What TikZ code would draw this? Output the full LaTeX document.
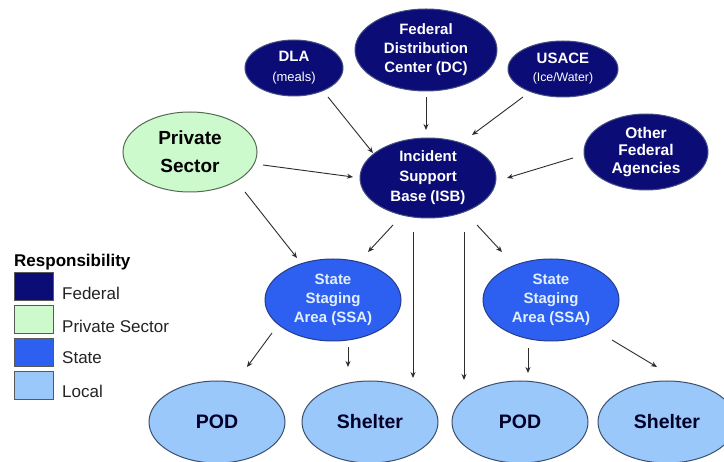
\documentclass[tikz,border=0pt]{standalone}
\usepackage{fontspec}
\setmainfont{Liberation Sans}
\usetikzlibrary{shapes.geometric,arrows.meta,calc}
\definecolor{fedfill}{RGB}{12,12,118}
\definecolor{fedline}{RGB}{70,80,130}
\definecolor{privfill}{RGB}{204,250,204}
\definecolor{privline}{RGB}{85,105,85}
\definecolor{statefill}{RGB}{45,95,240}
\definecolor{stateline}{RGB}{40,60,140}
\definecolor{localfill}{RGB}{155,200,250}
\definecolor{localline}{RGB}{60,80,110}
\definecolor{ssatext}{RGB}{225,240,255}
\definecolor{arrowcol}{RGB}{45,45,45}
\definecolor{legtextcol}{RGB}{35,35,35}
\begin{document}
\begin{tikzpicture}[x=1pt,y=-1pt,
  blob/.style={ellipse, inner sep=0pt, align=center, line width=1pt},
  fed/.style={blob, fill=fedfill, draw=fedline, text=white},
  priv/.style={blob, fill=privfill, draw=privline, text=black},
  state/.style={blob, fill=statefill, draw=stateline, text=ssatext},
  local/.style={blob, fill=localfill, draw=localline, text=black!85!blue},
  fsmall/.style={font=\fontsize{15}{19}\selectfont\bfseries},
  fbig/.style={font=\fontsize{19.5}{28}\selectfont\bfseries},
  legbox/.style={rectangle, inner sep=0pt, minimum width=39pt, minimum height=28pt, draw=black!65, line width=1pt},
  legtext/.style={anchor=west, inner sep=0pt, text=legtextcol, font=\fontsize{17}{20}\selectfont},
  arr/.style={draw=arrowcol, line width=0.9pt, -{Stealth[length=6pt,width=5pt]}}
]
\fill[white] (0,0) rectangle (724,462);
\useasboundingbox (0,0) rectangle (724,462);

% Federal nodes
\node[fed, font=\fontsize{15}{20}\selectfont\bfseries, minimum width=98pt, minimum height=56pt] (dla) at (294,68)
  {DLA\\{\mdseries\fontsize{13}{20}\selectfont (meals)}};
\node[fed, fsmall, minimum width=142pt, minimum height=82pt] (fdc) at (426,50)
  {Federal\\Distribution\\Center (DC)};
\node[fed, font=\fontsize{15}{18}\selectfont\bfseries, minimum width=110pt, minimum height=56pt] (usace) at (563,69)
  {USACE\\{\mdseries\fontsize{12.3}{18}\selectfont (Ice/Water)}};
\node[fed, font=\fontsize{15}{20}\selectfont\bfseries, minimum width=136pt, minimum height=80pt] (isb) at (428,178)
  {Incident\\Support\\Base (ISB)};
\node[fed, font=\fontsize{15.5}{17.5}\selectfont\bfseries, minimum width=124pt, minimum height=76pt] (other) at (646,152)
  {Other\\Federal\\Agencies};

% Private sector
\node[priv, font=\fontsize{19}{28}\selectfont\bfseries, minimum width=134pt, minimum height=80pt] (priv) at (190,152)
  {Private\\Sector};

% State staging areas
\node[state, fsmall, minimum width=136pt, minimum height=82pt] (ssal) at (333,300)
  {State\\Staging\\Area (SSA)};
\node[state, fsmall, minimum width=136pt, minimum height=82pt] (ssar) at (551,300)
  {State\\Staging\\Area (SSA)};

% Local
\node[local, fbig, minimum width=136pt, minimum height=82pt] (podl) at (217,422) {POD};
\node[local, fbig, minimum width=136pt, minimum height=82pt] (shl) at (370,422) {Shelter};
\node[local, fbig, minimum width=136pt, minimum height=82pt] (podr) at (520,422) {POD};
\node[local, fbig, minimum width=138pt, minimum height=82pt] (shr) at (667,422) {Shelter};

% Connectors
\draw[arr] ($(dla)+(34,29)$) -- ($(isb)+(-55,-25)$);
\draw[arr] ($(fdc)+(0,47)$) -- ($(isb)+(-2,-48)$);
\draw[arr] ($(usace)+(-40,28)$) -- ($(isb)+(44,-43)$);
\draw[arr] ($(priv)+(73,13)$) -- ($(isb)+(-75,-1)$);
\draw[arr] ($(other)+(-73,6)$) -- ($(isb)+(79,0)$);
\draw[arr] ($(priv)+(55,40)$) -- ($(ssal)+(-36,-42)$);
\draw[arr] ($(isb)+(-35,47)$) -- ($(ssal)+(35,-48)$);
\draw[arr] ($(isb)+(-15,54)$) -- ($(shl)+(43,-44)$);
\draw[arr] ($(isb)+(36,54)$) -- ($(podr)+(-56,-42)$);
\draw[arr] ($(isb)+(49,47)$) -- ($(ssar)+(-49,-48)$);
\draw[arr] ($(ssal)+(-61,33)$) -- ($(podl)+(30,-55)$);
\draw[arr] ($(ssal)+(15,47)$) -- ($(shl)+(-22,-55)$);
\draw[arr] ($(ssar)+(-23,48)$) -- ($(podr)+(8,-49)$);
\draw[arr] ($(ssar)+(61,40)$) -- ($(shr)+(-10,-55)$);

% Legend
\node[anchor=west, inner sep=0pt, font=\fontsize{17}{20}\selectfont\bfseries] (resp) at (14,262) {Responsibility};
\node[legbox, fill=fedfill] (lfed) at (33.5,287) {};
\node[legbox, fill=privfill] (lpriv) at (33.5,320) {};
\node[legbox, fill=statefill] (lstate) at (33.5,353) {};
\node[legbox, fill=localfill] (llocal) at (33.5,386) {};
\node[legtext] (tfed) at (62,293) {Federal};
\node[legtext] (tpriv) at (62,326) {Private Sector};
\node[legtext] (tstate) at (62,358) {State};
\node[legtext] (tlocal) at (62,391) {Local};
\end{tikzpicture}
\end{document}
